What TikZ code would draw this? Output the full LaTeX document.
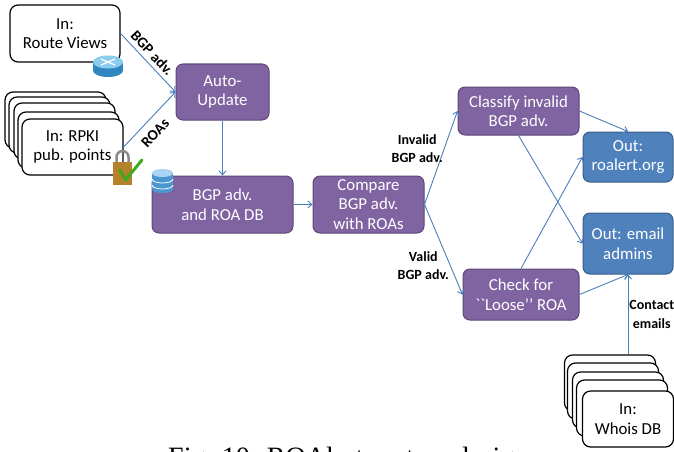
\documentclass[tikz,border=0pt]{standalone}
\usepackage{fontspec}
\setmainfont{Carlito}
\newfontfamily\capfont{Liberation Serif}
\usetikzlibrary{arrows.meta}
\definecolor{procfill}{HTML}{8064A2}
\definecolor{procdraw}{HTML}{5C4776}
\definecolor{outfill}{HTML}{4F81BD}
\definecolor{outdraw}{HTML}{385D8A}
\definecolor{flowblue}{HTML}{4A7EBB}
\definecolor{rtside}{HTML}{2F86C0}
\definecolor{rttop}{HTML}{8ACBEE}
\definecolor{lockbody}{HTML}{B5812A}
\definecolor{lockbar}{HTML}{8C8C8C}
\definecolor{checkgreen}{HTML}{3DAA1E}
\definecolor{dbside}{HTML}{4A97D2}
\definecolor{dbtop}{HTML}{A9D4F2}
\begin{document}
\begin{tikzpicture}[x=1pt,y=-1pt,
  inbox/.style={draw=black,line width=1.2pt,fill=white,rounded corners=8pt,align=center,inner sep=0pt,font=\fontsize{16.8}{19.5}\selectfont},
  proc/.style={draw=procdraw,line width=1pt,fill=procfill,rounded corners=7pt,text=white,align=center,inner sep=0pt,font=\fontsize{16.8}{19.5}\selectfont},
  outbox/.style={proc,fill=outfill,draw=outdraw},
  flow/.style={draw=flowblue,line width=0.9pt,-{Straight Barb[length=4pt,width=7pt]}},
  lbl/.style={font=\bfseries\fontsize{14}{18.5}\selectfont,align=center,inner sep=1pt},
  slbl/.style={lbl,font=\bfseries\fontsize{15}{18}\selectfont,sloped,inner sep=4pt}]
\useasboundingbox (0,0) rectangle (674,452);
\clip (0,0) rectangle (674,452);

% inputs
\node[inbox,minimum width=110pt,minimum height=57pt] (rv) at (65,33.5) {In:\\Route Views};
\foreach \i/\dx/\dy in {1/-17/-27,2/-13/-22,3/-8/-16,4/-4/-7}
  \node[inbox,minimum width=101pt,minimum height=56pt] (rp\i) at ({72.5+\dx},{147+\dy}) {};
\node[inbox,minimum width=101pt,minimum height=56pt] (rp) at (72.5,147) {In: RPKI\\pub. points};
\foreach \i/\dx/\dy in {1/-18/-36,2/-15/-28,3/-10/-19,4/-6/-11}
  \node[inbox,minimum width=91pt,minimum height=56pt] (wh\i) at ({628+\dx},{419+\dy}) {};
\node[inbox,minimum width=91pt,minimum height=56pt] (wh) at (628,419) {In:\\Whois DB};

% processing
\node[proc,minimum width=93pt,minimum height=56pt] (au) at (222.5,92) {Auto-\\Update};
\node[proc,minimum width=141pt,minimum height=57pt] (db) at (222.5,204.5) {BGP adv.\\and ROA DB};
\node[proc,minimum width=111pt,minimum height=57pt] (cmp) at (368.5,204.5) {Compare\\BGP adv.\\with ROAs};
\node[proc,minimum width=121pt,minimum height=48pt] (cls) at (518.5,111) {Classify invalid\\BGP adv.};
\node[proc,minimum width=116pt,minimum height=51pt] (chk) at (521,294.5) {Check for\\\textasciigrave\textasciigrave Loose{'}{'} ROA};

% outputs
\node[outbox,minimum width=90pt,minimum height=50pt] (ra) at (628,157) {Out:\\roalert.org};
\node[outbox,minimum width=90pt,minimum height=61pt] (em) at (628,243.5) {Out: email\\admins};

% icons
\fill[rtside] (93,62) rectangle (123,70.5);
\fill[rtside] (108,70.5) ellipse (15 and 6.5);
\fill[rttop] (108,62) ellipse (15 and 6.5);
\draw[white,line width=1.2pt] (101,59) -- (115,65) (101,65) -- (115,59);
\fill[lockbody] (113,162) rectangle (132,185);
\draw[lockbar,line width=2.5pt] (116.5,162) -- (116.5,157) arc[start angle=180,end angle=360,radius=6] -- (128.5,162);
\draw[checkgreen,line width=3pt,line cap=round,line join=round] (120,170) -- (125.5,180) -- (142,160);
\fill[dbside] (152,173) rectangle (173,189);
\fill[dbside] (162.5,189) ellipse (10.5 and 4);
\draw[white,line width=0.8pt] (152,179) arc[start angle=180,end angle=0,x radius=10.5,y radius=4];
\draw[white,line width=0.8pt] (152,185) arc[start angle=180,end angle=0,x radius=10.5,y radius=4];
\fill[dbtop] (162.5,173) ellipse (10.5 and 4);

% connectors
\draw[flow] (rv.east) -- node[slbl,above,pos=.45] {BGP adv.} (au.west);
\draw[flow] (rp.east) -- node[slbl,below,pos=.42,inner sep=8pt] {ROAs} (au.west);
\draw[flow] (au.south) -- (db.north);
\draw[flow] (db.east) -- (cmp.west);
\draw[flow] (cmp.east) -- node[lbl,pos=.6,left] {Invalid\\BGP adv.} (cls.west);
\draw[flow] (cmp.east) -- node[lbl,pos=.68,left] {Valid\\BGP adv.} (chk.west);
\draw[flow] (cls.east) -- (ra.north);
\draw[flow] (cls.south) -- (em.west);
\draw[flow] (chk.north) -- (ra.west);
\draw[flow] (chk.east) -- (em.south);
\draw[flow] (em.south |- wh1.north) -- node[lbl,right] {Contact\\emails} (em.south);

\node[font=\capfont\fontsize{28}{32}\selectfont,anchor=base west,inner sep=0pt] (cap) at (168,466) {Fig. 10: ROAlert system design};
\end{tikzpicture}
\end{document}
